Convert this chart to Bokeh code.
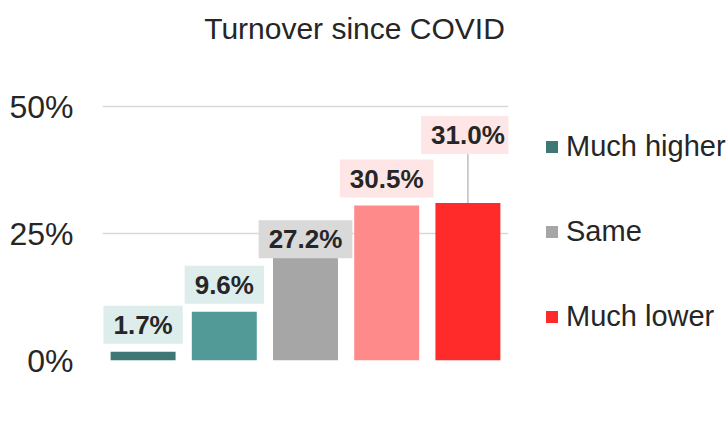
from bokeh.plotting import figure
from bokeh.models import (ColumnDataSource, FactorRange, Range1d, Legend, LegendItem,
                          FixedTicker, Label)
from bokeh.core.properties import value
from bokeh.embed import file_html
from bokeh.resources import INLINE

# ---- data ----
categories = ["Much higher", "Higher", "Same", "Lower", "Much lower"]
shares = [1.7, 9.6, 27.2, 30.5, 31.0]
share_labels = ["1.7%", "9.6%", "27.2%", "30.5%", "31.0%"]
y_ticks = [0, 25, 50]
y_tick_labels = {0: "0%", 25: "25%", 50: "50%"}
legend_entries = ["Much higher", "Same", "Much lower"]
title_text = "Turnover since COVID"

# ---- styles ----
bar_colors = ["#3F7775", "#529A98", "#A6A6A6", "#FF8A8A", "#FF2A2A"]
box_colors = ["#DCEDEC", "#DCEDEC", "#D9D9D9", "#FEE6E6", "#FEE6E6"]
label_lift_px = [27, 27, -17, 27, 68]   # label centre above bar top, px
leader_flags = [False, False, False, False, True]
BOX_HALF_PX = 19
PX_PER_PCT = 254 / 50            # vertical scale: 50% spans 254 px
FRAME_W, FRAME_H = 406, 360      # frame extends to top of canvas (title inside)
BORDER_LEFT, BORDER_RIGHT, BORDER_BOTTOM = 102, 218, 70
Y_MIN = 0
Y_MAX = FRAME_H / PX_PER_PCT
FONT = "Liberation Sans"
TXT = "#262626"

p = figure(x_range=FactorRange(*categories, range_padding=0),
           y_range=Range1d(Y_MIN, Y_MAX),
           frame_width=FRAME_W, frame_height=FRAME_H,
           min_border_left=BORDER_LEFT, min_border_right=BORDER_RIGHT,
           min_border_top=0, min_border_bottom=BORDER_BOTTOM,
           output_backend="svg", toolbar_location=None)

# title: x in screen px from frame left, y in px above frame bottom
title = Label(x=252, y=FRAME_H - 28,
              x_units="screen", y_units="screen",
              text=title_text, text_align="center", text_baseline="middle",
              text_font=FONT, text_font_size="30px", text_color=TXT)
p.add_layout(title)

p.outline_line_color = None
p.xaxis.visible = False
p.xgrid.visible = False
p.ygrid.ticker = FixedTicker(ticks=y_ticks)
p.ygrid.grid_line_color = "#D9D9D9"
p.ygrid.grid_line_width = 1.5

ax = p.yaxis[0]
ax.ticker = FixedTicker(ticks=y_ticks)
ax.major_label_overrides = y_tick_labels
ax.axis_line_color = None
ax.major_tick_line_color = None
ax.minor_tick_line_color = None
ax.major_tick_in = 0
ax.major_tick_out = 0
ax.major_label_standoff = 29
ax.major_label_text_font = FONT
ax.major_label_text_font_size = "32px"
ax.major_label_text_color = TXT

src = ColumnDataSource(dict(x=categories, y=shares, text=share_labels,
                            color=bar_colors, box=box_colors,
                            off=[-v for v in label_lift_px]))

bars = p.vbar(x="x", top="y", width=0.8, fill_color="color", line_color=None,
              source=src)

# leader lines
lx = [c for c, f in zip(categories, leader_flags) if f]
ly0 = [s for s, f in zip(shares, leader_flags) if f]
ly1 = [s + (l - BOX_HALF_PX) / PX_PER_PCT
       for s, l, f in zip(shares, label_lift_px, leader_flags) if f]
p.segment(x0=lx, y0=ly0, x1=lx, y1=ly1, line_color="#BFBFBF", line_width=1.5)

p.text(x="x", y="y", text="text", y_offset="off", text_align="center",
       text_baseline="middle", text_font=value(FONT), text_font_style="bold",
       text_font_size="26px", text_color=TXT, background_fill_color="box",
       padding=(10, 4), source=src)

items = [LegendItem(label=name, renderers=[bars], index=categories.index(name))
         for name in legend_entries]
legend = Legend(items=items, location=(36, 27), margin=0, padding=0,
                glyph_width=15, glyph_height=15, label_standoff=7,
                label_text_font=FONT, label_text_font_size="29px",
                label_text_color=TXT, spacing=52, border_line_color=None,
                background_fill_alpha=0)
p.add_layout(legend, "right")

open("out.html", "w").write(file_html(p, INLINE))
